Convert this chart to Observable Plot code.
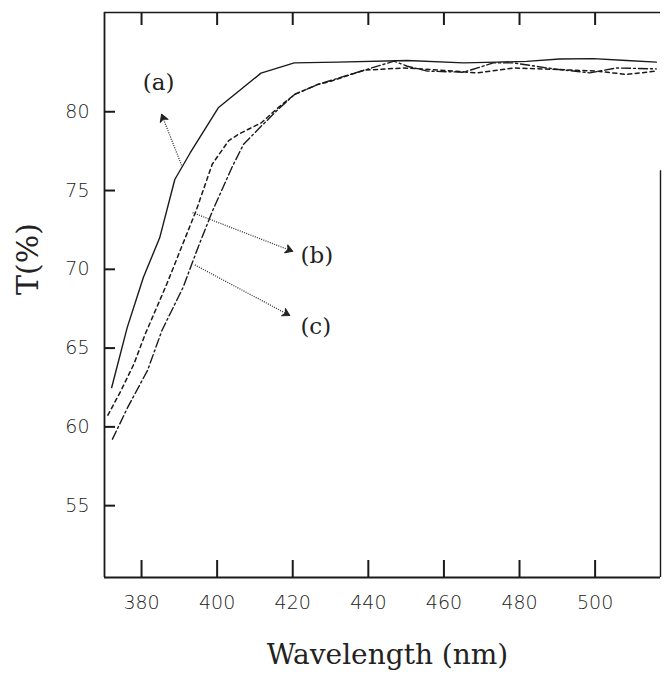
<!DOCTYPE html>
<html><head><meta charset="utf-8">
<script src="https://cdn.jsdelivr.net/npm/d3@7"></script>
<script src="https://cdn.jsdelivr.net/npm/@observablehq/plot@0.6"></script>
<style>body{margin:0;background:#fff} svg{display:block}</style>
</head><body><div id="chart"></div>
<script>
// tick values
const xTicks = [380, 400, 420, 440, 460, 480, 500];
const yTicks = [55, 60, 65, 70, 75, 80];

// curve (a) solid
const wlA = [372.1, 376.2, 380.5, 384.8, 388.8, 392.9, 400.3, 411.6, 420.4, 431.8, 450.3, 465.2, 474.0, 481.9, 490.6, 499.5, 508.3, 516.2];
const tA  = [62.5, 66.3, 69.5, 72.0, 75.7, 77.4, 80.25, 82.45, 83.1, 83.15, 83.25, 83.1, 83.15, 83.2, 83.35, 83.37, 83.25, 83.15];
// curve (b) dashed
const wlB = [371.1, 374.6, 378.0, 381.0, 386.7, 390.9, 394.4, 398.7, 403.0, 405.6, 411.7, 416.1, 420.5, 426.6, 430.1, 438.9, 449.5, 456.4, 468.8, 478.5, 490.6, 500.4, 508.3, 516.2];
const tB  = [60.74, 62.32, 64.0, 65.9, 69.08, 71.6, 73.7, 76.67, 78.15, 78.57, 79.3, 80.25, 81.1, 81.73, 81.94, 82.64, 82.78, 82.68, 82.47, 82.78, 82.68, 82.58, 82.37, 82.58];
// curve (c) dash-dot
const wlC = [372.3, 376.4, 381.6, 385.4, 391.0, 395.3, 398.8, 403.9, 407.0, 411.7, 416.1, 420.5, 426.6, 438.9, 446.8, 450.3, 455.6, 465.2, 473.1, 478.4, 489.0, 498.6, 505.7, 516.2];
const tC  = [59.22, 61.27, 63.59, 66.12, 68.86, 71.61, 73.72, 76.46, 77.94, 79.09, 80.15, 81.1, 81.73, 82.64, 83.21, 82.89, 82.58, 82.51, 83.1, 83.1, 82.72, 82.47, 82.78, 82.72];

// annotation labels and arrows (data units)
const labelText = ["(a)", "(b)", "(c)"];
const labelWl = [384.5, 426.4, 426.1];
const labelT  = [81.85, 70.87, 66.37];
const arrowFromWl = [390.6, 393.5, 394.1];
const arrowFromT  = [76.6, 73.6, 70.28];
const arrowToWl   = [385.3, 420.0, 419.2];
const arrowToT    = [79.84, 71.14, 67.07];

const xDomain = [370.2, 517.3];
const yDomain = [50.44, 86.3];
const rightEdgeTop = 76.25;

const toRows = (wl, t) => wl.map((w, i) => ({wl: w, t: t[i]}));
const rowsA = toRows(wlA, tA), rowsB = toRows(wlB, tB), rowsC = toRows(wlC, tC);
const labels = labelText.map((s, i) => ({s, wl: labelWl[i], t: labelT[i]}));
const arrows = arrowFromWl.map((w, i) => ({x1: w, y1: arrowFromT[i], x2: arrowToWl[i], y2: arrowToT[i]}));

const W = 664, H = 675, mL = 104, mR = 4, mT = 12, mB = 98;
const pxPerY = (H - mT - mB) / (yDomain[1] - yDomain[0]);
const pxPerX = (W - mL - mR) / (xDomain[1] - xDomain[0]);
const ink = "#1a1a1a";
const tickFont = {fontFamily: "DejaVu Sans", fontSize: 19, fontWeight: 200, fill: "#222"};

const chart = Plot.plot({
  width: W, height: H,
  marginLeft: mL, marginRight: mR, marginTop: mT, marginBottom: mB,
  x: {domain: xDomain},
  y: {domain: yDomain},
  style: {background: "#fff", color: ink},
  marks: [
    // tick labels
    Plot.axisX({ticks: xTicks, tickSize: 0, tickPadding: 18, label: null, ...tickFont}),
    Plot.axisY({ticks: yTicks, tickSize: 0, tickPadding: 15, label: null, ...tickFont}),
    // inward tick marks (lengths in px converted to data units)
    Plot.ruleX(xTicks, {x: d => d, y1: yDomain[0], y2: yDomain[0] + 17 / pxPerY, stroke: ink, strokeWidth: 2}),
    Plot.ruleX(xTicks, {x: d => d, y1: yDomain[1], y2: yDomain[1] - 13 / pxPerY, stroke: ink, strokeWidth: 2}),
    Plot.ruleY(yTicks, {y: d => d, x1: xDomain[0], x2: xDomain[0] + 11 / pxPerX, stroke: ink, strokeWidth: 2}),
    // frame
    Plot.ruleY([yDomain[0]], {stroke: ink, strokeWidth: 1.8}),
    Plot.ruleY([yDomain[1]], {stroke: ink, strokeWidth: 1.6}),
    Plot.ruleX([xDomain[0]], {stroke: ink, strokeWidth: 1.8}),
    Plot.ruleX([xDomain[1]], {y1: yDomain[0], y2: rightEdgeTop, stroke: ink, strokeWidth: 1.4}),
    // curves
    Plot.line(rowsA, {x: "wl", y: "t", stroke: ink, strokeWidth: 1.4}),
    Plot.line(rowsB, {x: "wl", y: "t", stroke: ink, strokeWidth: 1.5, strokeDasharray: "4,3.5"}),
    Plot.line(rowsC, {x: "wl", y: "t", stroke: ink, strokeWidth: 1.4, strokeDasharray: "9,3,2,3"}),
    // annotation arrows
    Plot.link(arrows, {x1: "x1", y1: "y1", x2: "x2", y2: "y2", stroke: "#333", strokeWidth: 1.3, strokeDasharray: "1,1.3", markerEnd: "arrow"}),
    Plot.text(labels, {x: "wl", y: "t", text: "s", fontFamily: "DejaVu Serif", fontSize: 23, fill: "#222"}),
    // axis titles
    Plot.text(["Wavelength (nm)"], {frameAnchor: "bottom", dy: 86, dx: 5, fontFamily: "DejaVu Serif", fontSize: 28, fill: "#222"}),
    Plot.text(["T(%)"], {frameAnchor: "left", dx: -76, rotate: -90, fontFamily: "DejaVu Serif", fontSize: 30, fill: "#222"})
  ]
});
// enlarge the arrowheads and keep them solid
chart.querySelectorAll("marker").forEach(m => {
  m.setAttribute("markerWidth", "16");
  m.setAttribute("markerHeight", "16");
  m.setAttribute("overflow", "visible");
  m.querySelectorAll("path").forEach(p => {
    p.setAttribute("d", "M-3.4,-2L0,0L-3.4,2L-2.4,0Z");
    p.setAttribute("fill", "#222");
    p.setAttribute("stroke", "#222");
    p.setAttribute("stroke-width", "0.5");
    p.setAttribute("stroke-dasharray", "none");
  });
});
document.getElementById("chart").appendChild(chart);
</script>
</body></html>
